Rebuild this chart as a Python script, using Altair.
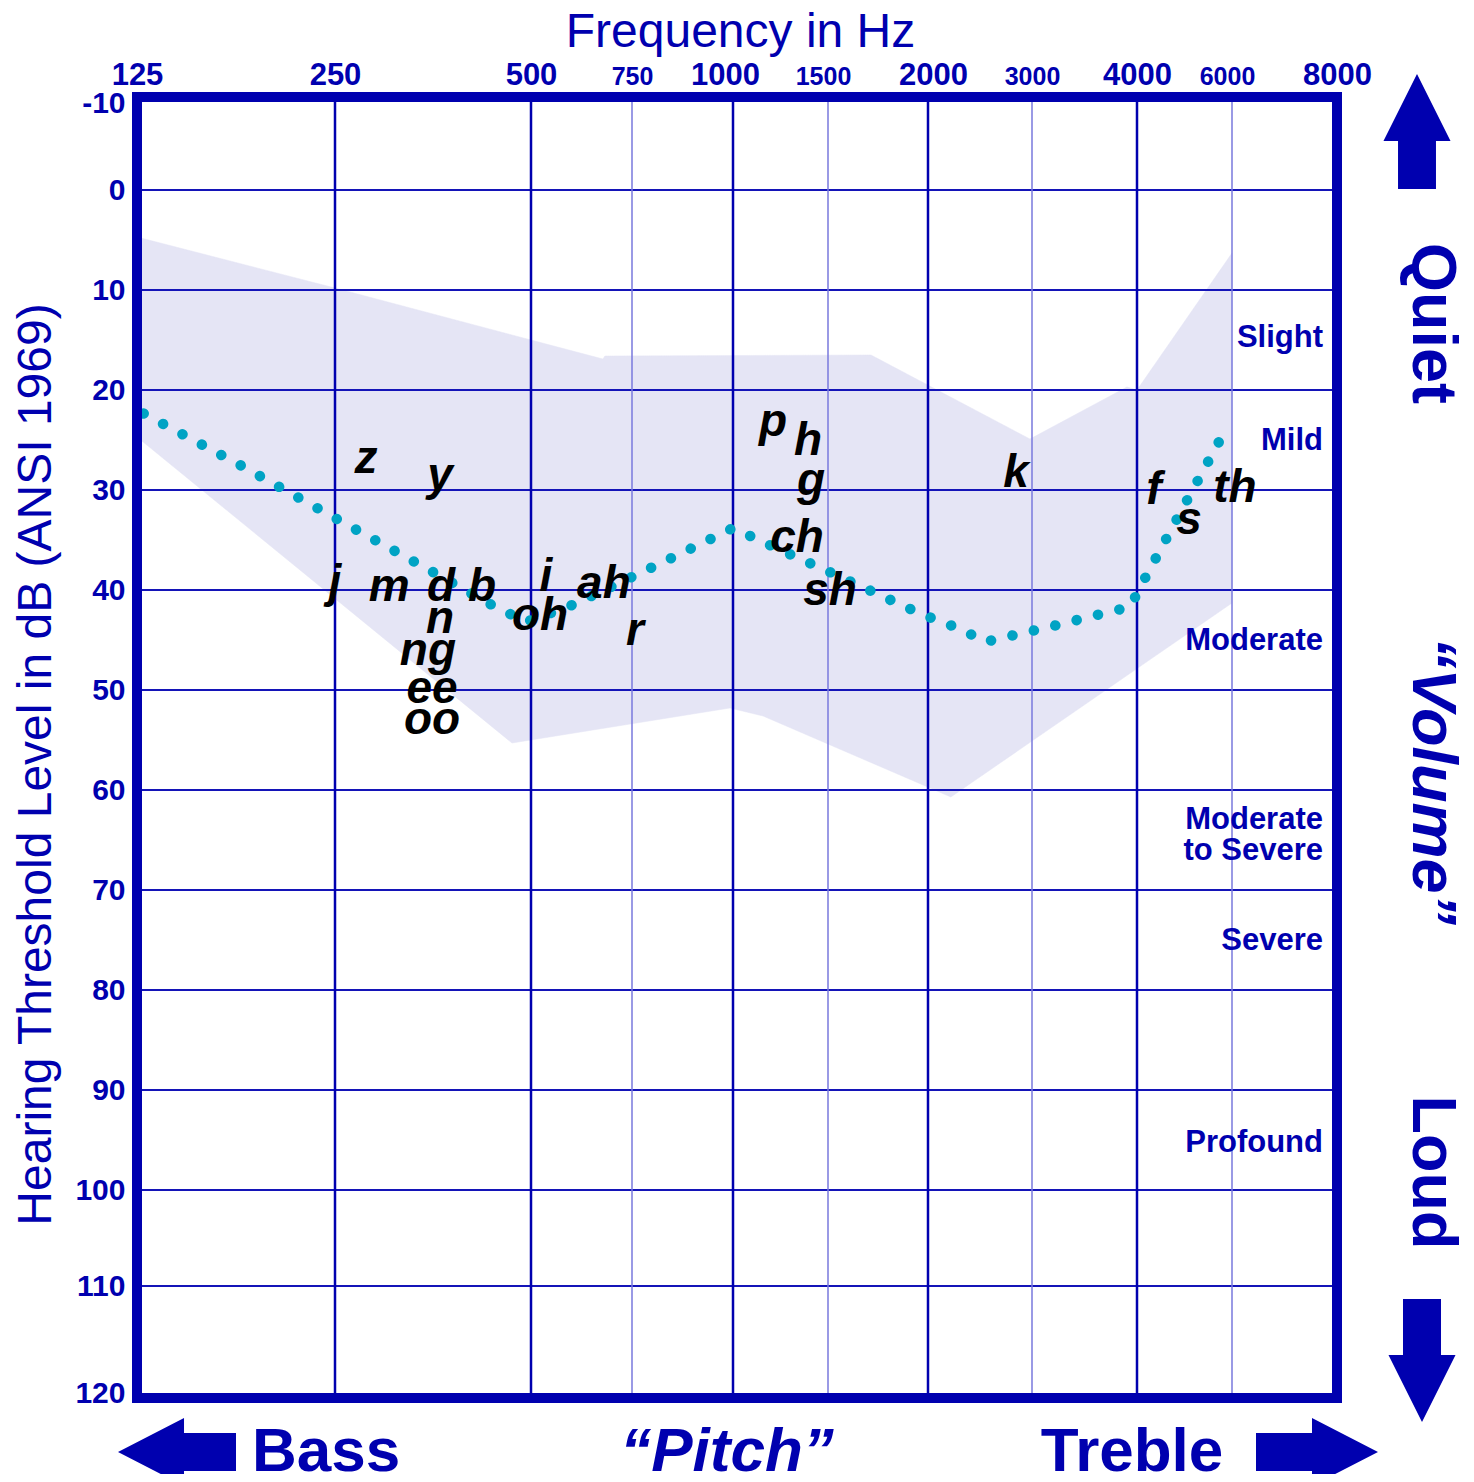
import json
import altair as alt
import pandas as pd

BLUE = "#0000AF"
FONT = "Liberation Sans"

# ---- axes: audiometric frequencies (octave index) and hearing level ----
freq_labels = ["125", "250", "500", "750", "1000", "1500", "2000", "3000", "4000", "6000", "8000"]
freq_pos = [0, 1, 2, 2.5, 3, 3.5, 4, 4.5, 5, 5.5, 6]
freq_px = [0, 198, 394, 495, 596, 691, 791, 895, 1000, 1095, 1200]

db_ticks = [-10, 0, 10, 20, 30, 40, 50, 60, 70, 80, 90, 100, 110, 120]
db_px = [0, 93, 193, 293, 393, 493, 593, 693, 793, 893, 993, 1093, 1189, 1301]

major_lines = [1, 2, 3, 4, 5]
minor_lines = [2.5, 3.5, 4.5, 5.5]
db_lines = [0, 10, 20, 30, 40, 50, 60, 70, 80, 90, 100, 110]

# ---- speech banana outline ----
ban_oct = [0, 1.0, 2.0, 2.356, 2.366, 3.715, 4.49, 4.952, 5.0, 5.5, 5.5, 4.11, 3.158, 2.985, 1.903, 0]
ban_db = [4.7, 9.8, 15.0, 16.9, 16.6, 16.5, 24.9, 19.7, 20.0, 6.3, 41.3, 60.7, 52.6, 51.8, 55.3, 24.7]

# ---- dotted curve ----
cur_oct = [0, 0.52, 1, 1.49, 1.781, 1.975, 2.193, 2.5, 2.797, 3, 3.226, 3.553, 3.965, 4.168,
           4.274, 4.394, 4.62, 4.848, 4.967, 5.02, 5.247, 5.474]
cur_db = [22.0, 27.5, 32.8, 38.1, 41.3, 43.2, 41.6, 38.7, 35.8, 33.8, 35.8, 38.6, 42.4, 44.0,
          45.2, 44.6, 43.5, 42.3, 41.7, 39.6, 31.6, 23.7]

# ---- speech sounds ----
phon = ["z", "y", "j", "m", "d", "b", "n", "ng", "ee", "oo", "i", "oh", "ah", "r",
        "p", "h", "g", "ch", "sh", "k", "f", "s", "th"]
ph_oct = [1.158, 1.536, 1.0, 1.276, 1.541, 1.75, 1.536, 1.474, 1.495, 1.495, 2.074, 2.045, 2.361, 2.515,
          3.211, 3.395, 3.411, 3.337, 3.51, 4.423, 5.089, 5.274, 5.514]
ph_db = [28.3, 30.0, 40.7, 41.1, 41.1, 41.1, 44.3, 47.5, 51.3, 54.4, 40.1, 44.0, 40.8, 45.5,
         24.6, 26.5, 30.5, 36.2, 41.5, 29.7, 31.4, 34.4, 31.2]

# ---- degree of hearing loss ----
deg_labels = ["Slight", "Mild", "Moderate", "Moderate", "to Severe", "Severe", "Profound"]
deg_db = [14.8, 25.1, 45.1, 63.0, 66.1, 75.1, 95.3]

W, H = 1200, 1301

label_expr = f"{json.dumps(freq_labels)}[indexof({json.dumps(freq_pos)}, datum.value)]"

x_scale = alt.Scale(domain=freq_pos, range=freq_px, zero=False, nice=False)
y_scale = alt.Scale(domain=db_ticks, range=db_px, zero=False, nice=False)

x_axis = alt.Axis(
    orient="top", values=freq_pos, labelExpr=label_expr,
    grid=False, ticks=False, tickSize=0, domain=False,
    labelFont=FONT, labelFontWeight="bold", labelColor=BLUE,
    labelFontSize={"condition": {"test": "datum.value % 1 != 0", "value": 25}, "value": 31},
    labelOffset={"condition": [{"test": "datum.value == 3", "value": -8},
                               {"test": "datum.value == 3.5", "value": -5},
                               {"test": "datum.value == 4", "value": 5},
                               {"test": "datum.value == 5.5", "value": -5}], "value": 0},
    labelBaseline="alphabetic", labelPadding=13, labelFlush=False, labelOverlap=False, labelBound=False,
    title="Frequency in Hz", titleFont=FONT, titleFontSize=48, titleFontWeight="normal",
    titleColor=BLUE, titleX=603, titleY=-51, titleBaseline="alphabetic", titleAlign="center",
)
y_axis = alt.Axis(
    orient="left", values=db_ticks, labelExpr="toString(datum.value)",
    grid=False, ticks=False, tickSize=0, domain=False,
    labelFont=FONT, labelFontWeight="bold", labelColor=BLUE, labelFontSize=30,
    labelPadding=12, labelFlush=False, labelOverlap=False, labelBound=False, labelBaseline="middle",
    labelOffset={"condition": [{"test": "datum.value == -10", "value": 6},
                               {"test": "datum.value == 120", "value": -5}], "value": 0},
    title="Hearing Threshold Level in dB (ANSI 1969)", titleFont=FONT, titleFontSize=48,
    titleFontWeight="normal", titleColor=BLUE, titleAngle=-90, titleX=-87, titleY=667,
    titleBaseline="alphabetic", titleAlign="center",
)


def X(field="oct"):
    return alt.X(f"{field}:Q", scale=x_scale, axis=x_axis)


def Y(field="db"):
    return alt.Y(f"{field}:Q", scale=y_scale, axis=y_axis)


banana_df = pd.DataFrame({"oct": ban_oct, "db": ban_db, "i": range(len(ban_oct))})
curve_df = pd.DataFrame({"oct": cur_oct, "db": cur_db, "i": range(len(cur_oct))})
ph_df = pd.DataFrame({"oct": ph_oct, "db": ph_db, "t": phon})
deg_df = pd.DataFrame({"db": deg_db, "t": deg_labels})
major_df = pd.DataFrame({"oct": major_lines})
minor_df = pd.DataFrame({"oct": minor_lines})
hline_df = pd.DataFrame({"db": db_lines})
one = pd.DataFrame({"a": [0]})

banana = alt.Chart(banana_df).mark_line(fill="#E5E5F5", stroke="#E5E5F5", strokeWidth=0.5).encode(
    x=X(), y=Y(), order="i:Q")

hgrid = alt.Chart(hline_df).mark_rule(color="#1414B8", strokeWidth=2).encode(y=Y())
vmajor = alt.Chart(major_df).mark_rule(color=BLUE, strokeWidth=2.5).encode(x=X())
vminor = alt.Chart(minor_df).mark_rule(color="#7878DC", strokeWidth=1.5).encode(x=X())

curve = alt.Chart(curve_df).mark_line(
    color="#00A3C4", strokeWidth=10.5, strokeCap="round", strokeDash=[0.1, 21.9],
    strokeDashOffset=14.5
).encode(x=X(), y=Y(), order="i:Q")

letters = alt.Chart(ph_df).mark_text(
    font=FONT, fontSize=46, fontWeight="bold", fontStyle="italic", color="black",
    align="center", baseline="alphabetic"
).encode(x=X(), y=Y(), text="t:N")

degrees = alt.Chart(deg_df).mark_text(
    font=FONT, fontSize=31, fontWeight="bold", color=BLUE, align="right", baseline="middle"
).encode(x=alt.value(1186), y=Y(), text="t:N")

border = alt.Chart(one).mark_rect(
    fillOpacity=0, stroke=BLUE, strokeWidth=10, strokeJoin="miter"
).encode(x=alt.value(0), x2=alt.value(W), y=alt.value(0), y2=alt.value(H))

UP = "M0,-1 L0.583,0.165 L0.33,0.165 L0.33,1 L-0.33,1 L-0.33,0.165 L-0.583,0.165 Z"
DOWN = "M0,1 L0.545,-0.09 L0.309,-0.09 L0.309,-1 L-0.309,-1 L-0.309,-0.09 L-0.545,-0.09 Z"
LEFT = "M-1,0 L0.119,-0.576 L0.119,-0.322 L1,-0.322 L1,0.322 L0.119,0.322 L0.119,0.576 Z"
RIGHT = "M1,0 L-0.082,-0.557 L-0.082,-0.311 L-1,-0.311 L-1,0.311 L-0.082,0.311 L-0.082,0.557 Z"


def arrow(path, size, px, py):
    return alt.Chart(one).mark_point(
        shape=path, size=size, filled=True, color=BLUE, opacity=1, strokeWidth=0
    ).encode(x=alt.value(px), y=alt.value(py))


arrows = [
    arrow(UP, 13225, 1280, 34.5),
    arrow(DOWN, 15129, 1285, 1263.5),
    arrow(LEFT, 13924, 40, 1355),
    arrow(RIGHT, 14884, 1180, 1355),
]


def label(text, px, py, size, angle=0, italic=False, baseline="middle"):
    kw = dict(text=text, font=FONT, fontSize=size, fontWeight="bold", color=BLUE,
              align="center", baseline=baseline, angle=angle)
    if italic:
        kw["fontStyle"] = "italic"
    return alt.Chart(one).mark_text(**kw).encode(x=alt.value(px), y=alt.value(py))


side = [
    label("Quiet", 1295, 226.5, 63, angle=90),
    label("\u201cVolume\u201d", 1295, 684, 63, angle=90, italic=True),
    label("Loud", 1295, 1075.5, 63, angle=90),
    label("Bass", 189, 1374, 62, baseline="alphabetic"),
    label("\u201cPitch\u201d", 590, 1374, 62, italic=True, baseline="alphabetic"),
    label("Treble", 995, 1374, 62, baseline="alphabetic"),
]

chart = alt.layer(
    banana, hgrid, vminor, vmajor, curve, letters, degrees, border, *arrows, *side
).properties(
    width=W, height=H,
    autosize=alt.AutoSizeParams(type="none"),
    padding={"left": 129, "top": 89, "right": 129, "bottom": 76},
    background="white",
).configure_view(strokeWidth=0)

chart.save("out.html", embed_options={"renderer": "svg", "actions": False})
